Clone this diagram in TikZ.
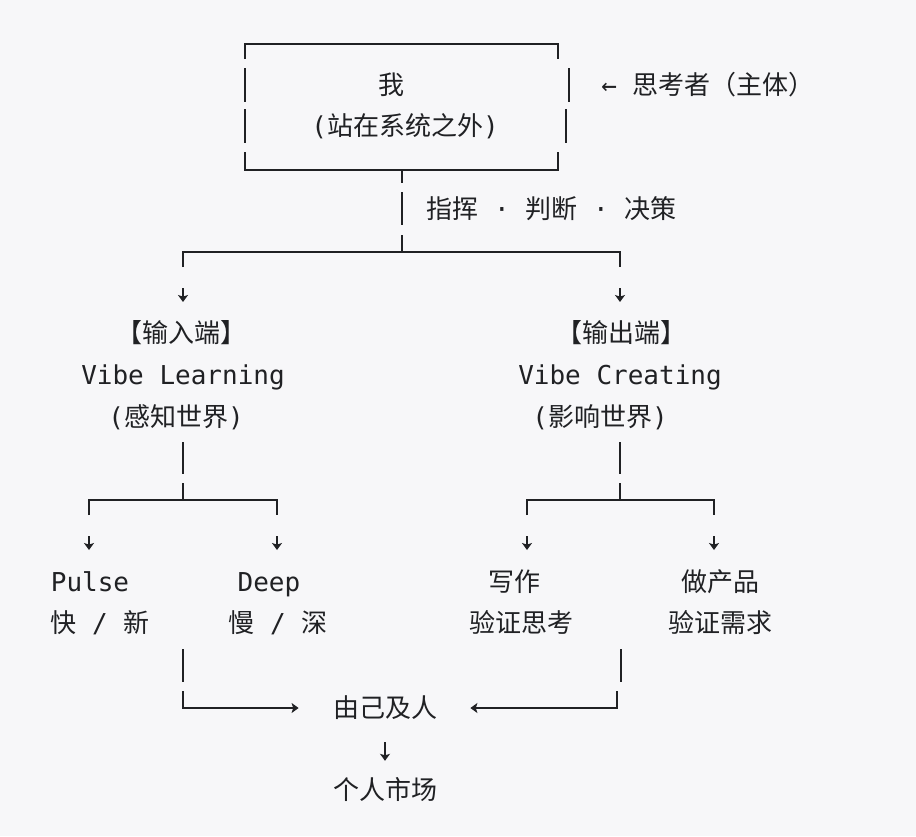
\documentclass[tikz,border=0pt]{standalone}
\usepackage{fontspec}
\setmainfont{DejaVu Sans Mono}
\newfontfamily\cjk{Noto Sans CJK SC}
\usetikzlibrary{arrows.meta}

\definecolor{paper}{HTML}{F7F7F9}
\definecolor{ink}{HTML}{202124}
\newcommand{\zh}[1]{{\cjk #1}}

\tikzset{
  lbl/.style={inner sep=0pt, text height=0.98em, text depth=0pt, text=ink,
    font=\fontsize{13}{16}\selectfont},
  wire/.style={draw=ink, line width=1pt},
  darrow/.style={wire, -{Stealth[length=3.5pt,width=5pt,inset=0.8pt]}}
}

\begin{document}
\begin{tikzpicture}[x=0.5pt, y=-0.5pt, every node/.style={lbl}]
    \fill[paper] (0,0) rectangle (916,836) ;

    % the box round "me"
    \draw[wire] (245,59) |- (557.5,44) -- (557.5,59) ;
    \draw[wire] (245,68) -- (245,102) (245,109) -- (245,143) ;
    \draw[wire] (569,68) -- (569,102) (566,109) -- (566,143) ;
    \draw[wire] (245,152) |- (557.5,170) -- (557.5,152) ;
    \node (me) at (391,85) {\zh{我}} ;
    \node (outside) at (405,126) {(\zh{站在系统之外})} ;
    \node (thinker) at (708,85) {← \zh{思考者（主体）}} ;

    % stem and first split
    \draw[wire] (401.5,170) -- (401.5,183) (401.5,192) -- (401.5,225) (401.5,235) -- (401.5,252) ;
    \node (cmd) at (551.5,209) {\zh{指挥} · \zh{判断} · \zh{决策}} ;
    \draw[wire] (183,267) |- (620,252) -- (620,267) ;
    \draw[darrow] (183,288) -- (183,302) ;
    \draw[darrow] (620,288) -- (620,302) ;

    \node (inport) at (181,333) {\zh{【输入端】}} ;
    \node (learn) at (183,375) {Vibe Learning} ;
    \node (sense) at (176,417) {(\zh{感知世界})} ;
    \node (outport) at (621,333) {\zh{【输出端】}} ;
    \node (create) at (620,375) {Vibe Creating} ;
    \node (impact) at (600,417) {(\zh{影响世界})} ;

    % second splits
    \draw[wire] (183,442) -- (183,474) (183,483) -- (183,500) ;
    \draw[wire] (89,515) |- (277,500) -- (277,515) ;
    \draw[darrow] (89,536) -- (89,550) ;
    \draw[darrow] (277,536) -- (277,550) ;
    \draw[wire] (620,442) -- (620,474) (620,483) -- (620,500) ;
    \draw[wire] (527,515) |- (714,500) -- (714,515) ;
    \draw[darrow] (527,536) -- (527,550) ;
    \draw[darrow] (714,536) -- (714,550) ;

    \node (pulse) at (90,582) {Pulse} ;
    \node (pulsesub) at (100,623) {\zh{快} / \zh{新}} ;
    \node (deep) at (269,582) {Deep} ;
    \node (deepsub) at (278,623) {\zh{慢} / \zh{深}} ;
    \node (write) at (514,582) {\zh{写作}} ;
    \node (writesub) at (521,623) {\zh{验证思考}} ;
    \node (product) at (720,582) {\zh{做产品}} ;
    \node (productsub) at (720,623) {\zh{验证需求}} ;

    % merge
    \node (merge) at (385,708) {\zh{由己及人}} ;
    \node (market) at (385,790) {\zh{个人市场}} ;
    \draw[wire] (183,649) -- (183,682) ;
    \draw[darrow, shorten >=17pt] (183,691) |- (merge.west) ;
    \draw[wire] (621,649) -- (621,682) ;
    \draw[darrow, shorten >=16.5pt] (617,691) |- (merge.east) ;
    \draw[darrow, shorten <=12pt, shorten >=9.5pt] (merge) -- (market) ;
\end{tikzpicture}
\end{document}
